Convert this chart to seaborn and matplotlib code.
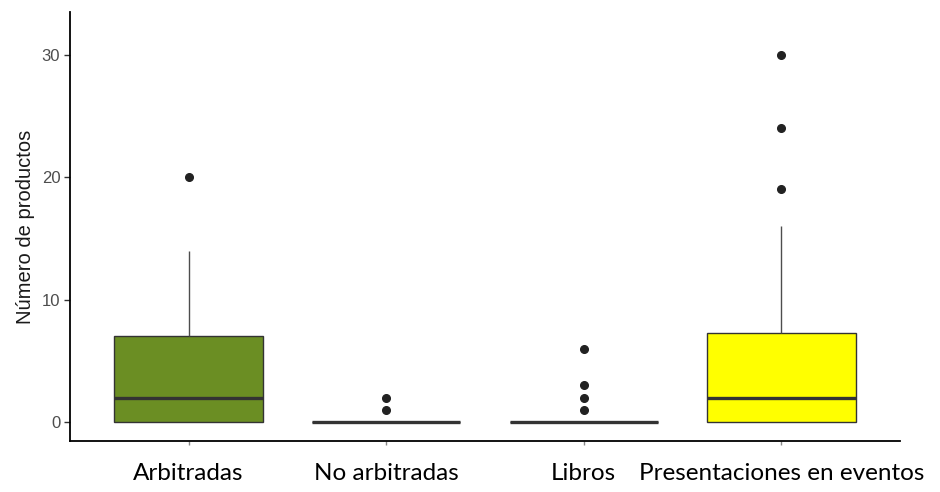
import pandas as pd
import matplotlib.pyplot as plt
import seaborn as sns

# Counts per researcher, read so that the quartiles/whiskers/outliers match the picture
arbitradas = [0, 0, 0, 0, 0, 0, 1, 1, 2, 2, 2, 3, 5, 6, 7, 7, 8, 10, 14, 20]
no_arbitradas = [0] * 18 + [1, 2]
libros = [0] * 16 + [1, 2, 3, 6]
presentaciones = [0, 0, 0, 0, 0, 0, 0, 1, 1, 1, 2, 2, 2, 3, 4, 5, 6, 7, 8, 10, 16, 19, 24, 30]

categories = ['Arbitradas', 'No arbitradas', 'Libros', 'Presentaciones en eventos']
colors = ['#6B8E23', '#FFFFFF', '#FFFFFF', '#FFFF00']
y_ticks = [0, 10, 20, 30]

values = [arbitradas, no_arbitradas, libros, presentaciones]
df = pd.DataFrame({
    'tipo': [c for c, v in zip(categories, values) for _ in v],
    'n': [x for v in values for x in v],
})

sns.set_style('white')
plt.rcParams['font.family'] = ['Liberation Sans', 'DejaVu Sans']

fig = plt.figure(figsize=(9.4, 4.92), dpi=100)
ax = fig.add_axes([70 / 940, 51 / 492, 830 / 940, 429 / 492])

sns.boxplot(
    data=df, x='tipo', y='n', hue='tipo', order=categories, hue_order=categories,
    palette=dict(zip(categories, colors)), legend=False, width=0.75, saturation=1,
    linecolor='#333333', linewidth=1.0, showcaps=False,
    medianprops={'color': '#333333', 'linewidth': 2.4},
    whiskerprops={'color': '#4d4d4d'},
    flierprops={'marker': 'o', 'markersize': 5.5, 'markerfacecolor': '#222222',
                'markeredgecolor': '#222222'},
    whis=1.5, ax=ax,
)

ax.set_xlim(-0.6, 3.6)
ax.set_ylim(-1.55, 33.5)
ax.set_yticks(y_ticks)
ax.set_xlabel('')
ax.set_ylabel('Número de productos', fontsize=14.5, color='#1a1a1a', labelpad=5)

for side in ['top', 'right']:
    ax.spines[side].set_visible(False)
for side in ['left', 'bottom']:
    ax.spines[side].set_color('#000000')
    ax.spines[side].set_linewidth(1.3)

ax.tick_params(axis='y', length=4, width=1, color='#333333', labelsize=12,
               labelcolor='#4D4D4D', left=True, pad=3)
ax.tick_params(axis='x', length=3, width=1, color='#888888', bottom=True,
               labelsize=17.5, labelcolor='#000000', pad=13)
for lab in ax.get_xticklabels():
    lab.set_family(['Lato', 'DejaVu Sans'])

fig.savefig('out.png', dpi=100)
